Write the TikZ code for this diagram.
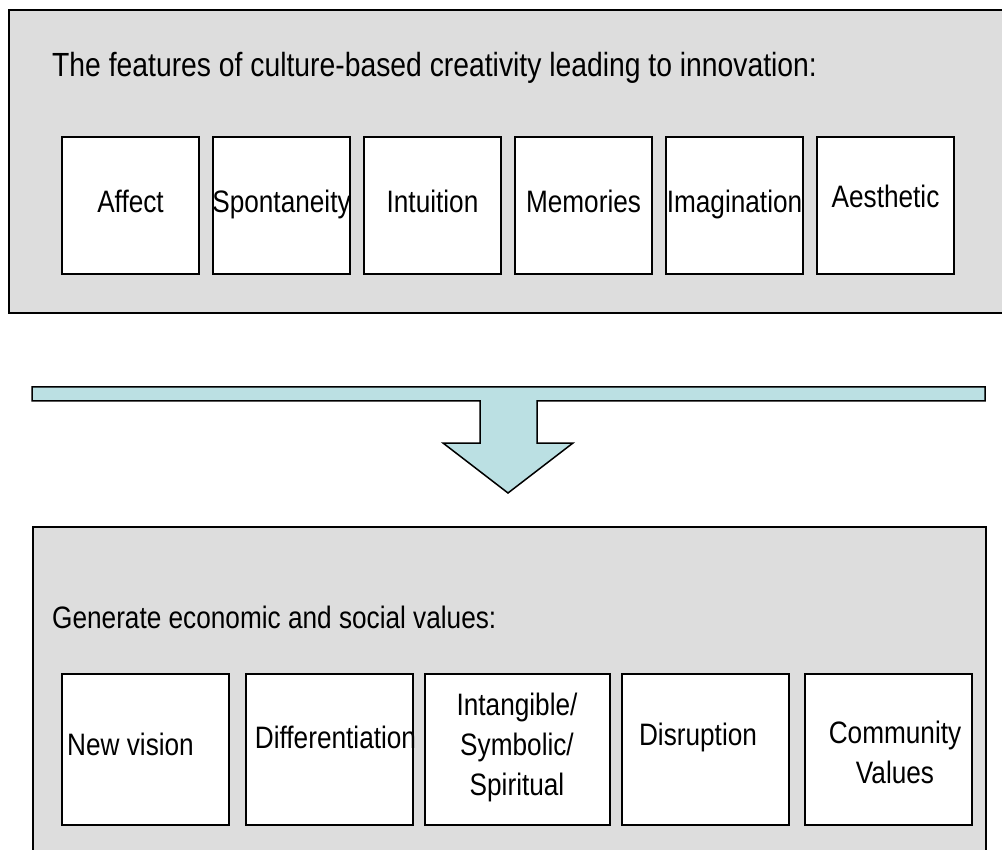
\documentclass[tikz,border=0pt]{standalone}
\usepackage{fontspec}
\setmainfont{Liberation Sans}[FakeStretch=0.845]
\definecolor{panelgray}{HTML}{DDDDDD}
\definecolor{arrowcyan}{HTML}{BBE0E3}
\tikzset{
    panel/.style={draw, fill=panelgray, line width=2pt, inner sep=0pt, anchor=north west},
    itembox/.style={draw, fill=white, line width=1.5pt, inner sep=0pt},
    lbl/.style={font=\fontsize{31}{40}\selectfont, inner sep=0pt, align=center}
}
\begin{document}
\begin{tikzpicture}[x=1pt, y=-1pt]
            \clip (0,0) rectangle (1002,850);
            \node[panel, minimum width=1010, minimum height=303] (top) at (8,9) {};
            \node[lbl, font=\fontsize{33.5}{40}\selectfont, anchor=base west] (toptitle) at (52,77) {The features of culture-based creativity leading to innovation:};

            \foreach \feat/\dy [count=\i from 0] in {Affect/0, Spontaneity/0, Intuition/0, Memories/0, Imagination/0, Aesthetic/-5} {
                \node[itembox, minimum width=137, minimum height=137] (f\i) at (130.5+151*\i, 205.5) {};
                \node[lbl, anchor=base] (t\i) at (130.5+151*\i, 213+\dy) {\feat};
            }

            % arrow between the two panels
            \draw[fill=arrowcyan, line width=1.5pt] (32,387) -- (985,387) -- (985,401) -- (537,401) -- (537,443) -- (573,443)
                -- (508,493) -- (443,443) -- (480,443) -- (480,401) -- (32,401) -- cycle;

            \node[panel, minimum width=953, minimum height=400] (bottom) at (32,526) {};
            \node[lbl, anchor=base west] (bottomtitle) at (52,628) {Generate economic and social values:};

            \node[itembox, minimum width=167, minimum height=151] (v1) at (145.5,749.5) {};
            \node[itembox, minimum width=167, minimum height=151] (v2) at (329.5,749.5) {};
            \node[itembox, minimum width=185, minimum height=151] (v3) at (517.5,749.5) {};
            \node[itembox, minimum width=167, minimum height=151] (v4) at (705.5,749.5) {};
            \node[itembox, minimum width=167, minimum height=151] (v5) at (888.5,749.5) {};

            \node[lbl, anchor=base west] (w1) at (67,755) {New vision};
            \node[lbl, anchor=base] (w2) at (335.5,748) {Differentiation};
            \node[lbl] (w3) at (517,747) {Intangible/\\Symbolic/\\Spiritual};
            \node[lbl, anchor=base] (w4) at (698,745) {Disruption};
            \node[lbl] (w5) at (895,752.5) {Community\\Values};
\end{tikzpicture}
\end{document}
